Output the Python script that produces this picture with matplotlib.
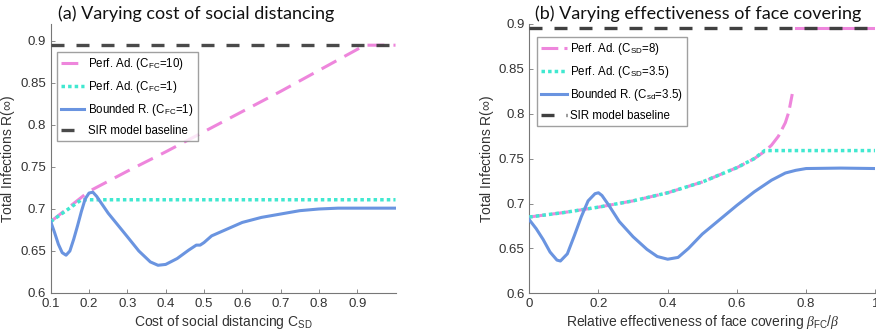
import matplotlib
matplotlib.use('Agg')
import matplotlib.pyplot as plt
import numpy as np

plt.rcParams['font.family'] = ['Liberation Sans', 'DejaVu Sans']
plt.rcParams['mathtext.fontset'] = 'custom'
plt.rcParams['mathtext.rm'] = 'Liberation Sans'
plt.rcParams['mathtext.it'] = 'Liberation Serif:italic'

# panel (a): cost of social distancing
csd_pa10 = [0.1, 0.15, 0.2, 0.3, 0.4, 0.5, 0.6, 0.7, 0.8, 0.9, 0.92, 1.0]
r_pa10 = [0.685, 0.703, 0.721, 0.745, 0.768, 0.792, 0.816, 0.840, 0.865, 0.890, 0.895, 0.895]
csd_pa1 = [0.1, 0.14, 0.18, 0.2, 0.4, 0.6, 0.8, 1.0]
r_pa1 = [0.685, 0.698, 0.711, 0.711, 0.711, 0.711, 0.711, 0.711]
csd_br = [0.1, 0.11, 0.12, 0.13, 0.14, 0.15, 0.16, 0.17, 0.18, 0.19, 0.2, 0.21, 0.22,
          0.25, 0.3, 0.33, 0.36, 0.38, 0.4, 0.43, 0.46, 0.48, 0.49, 0.5, 0.52, 0.55,
          0.6, 0.65, 0.7, 0.75, 0.8, 0.85, 0.9, 1.0]
r_br = [0.685, 0.672, 0.658, 0.648, 0.645, 0.650, 0.664, 0.680, 0.697, 0.712, 0.719, 0.720, 0.715,
        0.695, 0.667, 0.650, 0.637, 0.633, 0.634, 0.641, 0.651, 0.657, 0.657, 0.660, 0.668, 0.674,
        0.684, 0.690, 0.694, 0.698, 0.700, 0.701, 0.701, 0.701]

# panel (b): effectiveness of face covering
bfc_pa8 = [0, 0.1, 0.2, 0.3, 0.4, 0.5, 0.6, 0.65, 0.68, 0.7, 0.72, 0.74, 0.75, 0.76]
r_pa8 = [0.685, 0.690, 0.696, 0.703, 0.712, 0.724, 0.740, 0.750, 0.758, 0.765, 0.775, 0.790, 0.802, 0.822]
bfc_pa8_top = [0.77, 1.0]
r_pa8_top = [0.895, 0.895]
bfc_pa35 = [0, 0.1, 0.2, 0.3, 0.4, 0.5, 0.6, 0.65, 0.68, 0.8, 1.0]
r_pa35 = [0.685, 0.690, 0.696, 0.703, 0.712, 0.724, 0.740, 0.750, 0.759, 0.759, 0.759]
bfc_br = [0, 0.02, 0.04, 0.06, 0.08, 0.09, 0.11, 0.13, 0.15, 0.17, 0.19, 0.2, 0.21, 0.23,
          0.26, 0.3, 0.34, 0.37, 0.4, 0.43, 0.46, 0.5, 0.55, 0.6, 0.65, 0.7, 0.74, 0.77,
          0.8, 0.9, 1.0]
r_br_b = [0.682, 0.672, 0.660, 0.646, 0.637, 0.636, 0.644, 0.664, 0.685, 0.703, 0.711, 0.712, 0.709, 0.698,
          0.680, 0.663, 0.649, 0.641, 0.638, 0.640, 0.650, 0.666, 0.682, 0.698, 0.713, 0.726, 0.734, 0.737,
          0.739, 0.7395, 0.739]

baseline = 0.895

pink = '#EE86DC'
cyan = '#40E8D0'
blue = '#6A94E0'
dark = '#404040'

fig = plt.figure(figsize=(8.76, 3.36), dpi=100)
axa = fig.add_axes([0.0579, 0.128, 0.3936, 0.8])
axb = fig.add_axes([0.6042, 0.127, 0.3950, 0.8016])

def style(ax):
    for s in ['top', 'right']:
        ax.spines[s].set_visible(False)
    for s in ['left', 'bottom']:
        ax.spines[s].set_color('#777777')
        ax.spines[s].set_linewidth(0.8)
    ax.tick_params(direction='in', length=3, width=0.6, colors='#777777',
                   labelcolor='#333333', labelsize=9.5)

leg_kw = dict(loc='upper left', fontsize=8.3, frameon=True, fancybox=False,
              edgecolor='#888888', borderpad=0.35, labelspacing=0.62, borderaxespad=0)
order = [1, 2, 3, 0]

# (a)
axa.plot([0.1, 1.0], [baseline, baseline], color=dark, lw=2.4, dashes=(3.9, 3.6),
         alpha=0.95, label='SIR model baseline', zorder=4)
axa.plot(csd_pa10, r_pa10, color=pink, lw=2.2, dashes=(5.5, 3), label='Perf. Ad. (C$_{\\rm FC}$=10)', zorder=3)
axa.plot(csd_pa1, r_pa1, color=cyan, lw=2.5, dashes=(1, 0.9), label='Perf. Ad. (C$_{\\rm FC}$=1)', zorder=3)
axa.plot(csd_br, r_br, color=blue, lw=2.2, label='Bounded R. (C$_{\\rm FC}$=1)', zorder=4)
axa.set_xlim(0.1, 1.0)
axa.set_ylim(0.6, 0.92)
axa.set_xticks([0.1, 0.2, 0.3, 0.4, 0.5, 0.6, 0.7, 0.8, 0.9])
axa.set_xticklabels(['0.1', '0.2', '0.3', '0.4', '0.5', '0.6', '0.7', '0.8', '0.9'])
axa.set_yticks([0.6, 0.65, 0.7, 0.75, 0.8, 0.85, 0.9])
axa.set_yticklabels(['0.6', '0.65', '0.7', '0.75', '0.8', '0.85', '0.9'])
style(axa)
axa.set_xlabel('Cost of social distancing C$_{\\rm SD}$', fontsize=10, color='#333333', labelpad=2)
axa.set_ylabel('Total Infections R($\\infty$)', fontsize=10, color='#333333', labelpad=2)
h, l = axa.get_legend_handles_labels()
axa.legend([h[i] for i in order], [l[i] for i in order], bbox_to_anchor=(0.017, 0.898),
           handlelength=2.0, handletextpad=0.4, **leg_kw)

# (b)
axb.plot([0, 1.0], [baseline, baseline], color=dark, lw=2.4, dashes=(3.9, 3.6),
         label='SIR model baseline', zorder=4)
axb.plot(bfc_pa8, r_pa8, color=pink, lw=2.2, dashes=(5.5, 2), label='Perf. Ad. (C$_{\\rm SD}$=8)', zorder=3)
axb.plot(bfc_pa8_top, r_pa8_top, color=pink, lw=2.2, zorder=2)
axb.plot(bfc_pa35, r_pa35, color=cyan, lw=2.5, dashes=(1, 0.9), label='Perf. Ad. (C$_{\\rm SD}$=3.5)', zorder=3)
axb.plot(bfc_br, r_br_b, color=blue, lw=2.2, label='Bounded R. (C$_{\\rm sd}$=3.5)', zorder=4)
axb.set_xlim(0, 1.0)
axb.set_ylim(0.6, 0.9)
axb.set_xticks([0, 0.2, 0.4, 0.6, 0.8, 1.0])
axb.set_xticklabels(['0', '0.2', '0.4', '0.6', '0.8', '1'])
axb.set_yticks([0.6, 0.65, 0.7, 0.75, 0.8, 0.85, 0.9])
axb.set_yticklabels(['0.6', '0.65', '0.7', '0.75', '0.8', '0.85', '0.9'])
style(axb)
axb.set_xlabel('Relative effectiveness of face covering $\\mathit{\\beta}_{\\rm FC}/\\mathit{\\beta}$',
               fontsize=10, color='#333333', labelpad=2)
axb.set_ylabel('Total Infections R($\\infty$)', fontsize=10, color='#333333', labelpad=2)
h, l = axb.get_legend_handles_labels()
axb.legend([h[i] for i in order], [l[i] for i in order], bbox_to_anchor=(0.021, 0.953),
           handlelength=2.3, handletextpad=0.25, **leg_kw)

fig.text(0.066, 0.96, '(a) Varying cost of social distancing', fontsize=13,
         family=['Lato', 'DejaVu Sans'], va='center', ha='left', color='#111111')
fig.text(0.611, 0.96, '(b) Varying effectiveness of face covering', fontsize=13,
         family=['Lato', 'DejaVu Sans'], va='center', ha='left', color='#111111')

fig.savefig('out.png', dpi=100)
